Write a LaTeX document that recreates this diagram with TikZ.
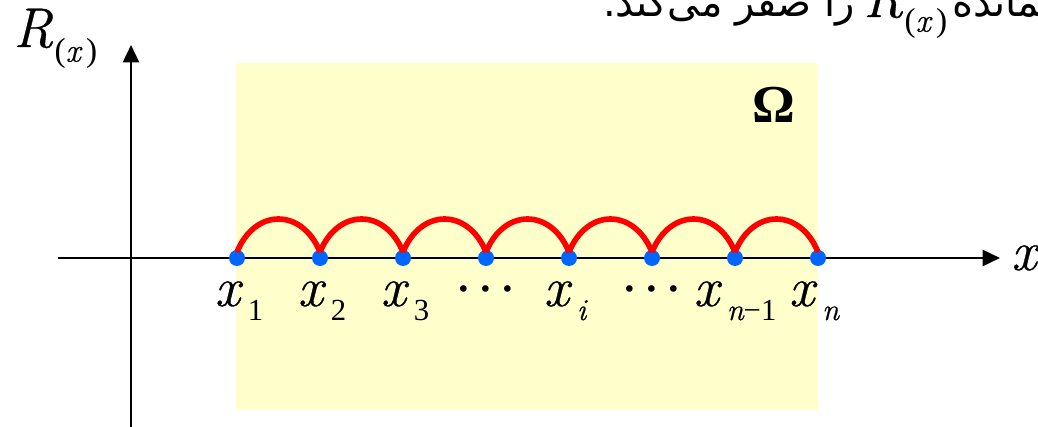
\documentclass[tikz,border=0pt]{standalone}
\usepackage{fontspec}
\setmainfont{Liberation Serif}
\newfontfamily\lmit[FakeBold=0.6]{Latin Modern Roman}
\newfontfamily\persianfont[Script=Arabic]{DejaVu Sans}
\TeXXeTstate=1
\usetikzlibrary{arrows.meta,positioning,calc}

\definecolor{omegabg}{RGB}{255,255,204}
\definecolor{nodeblue}{RGB}{0,102,255}
\newcommand{\bigfont}{\fontsize{42}{46}\selectfont}
\newcommand{\subfont}{\fontsize{23}{25}\selectfont}
\newcommand{\ivar}[1]{{\lmit\itshape #1}}
\newcommand{\xsub}[1]{\ivar{x}\hspace{6pt}\raisebox{-10.5pt}{\subfont #1}}
\newcommand{\Rsub}{\ivar{R}\hspace{1pt}\raisebox{-11pt}{\fontsize{25}{27}\selectfont(\ivar{x}\,)}}
\newcommand{\cdotsrow}{·\hspace{2.6pt}·\hspace{2.6pt}·}

\begin{document}
\begin{tikzpicture}[x=0.75pt,y=-0.75pt,
	axis/.style={line width=1.9pt,-{Triangle[length=13pt,width=12pt]}},
	dotpt/.style={circle,fill=nodeblue,inner sep=0pt,minimum size=12pt},
	hump/.style={red,line width=4.2pt,line join=round},
	lbl/.style={font=\bigfont,inner sep=0pt,anchor=base},
	fa/.style={font=\fontsize{30}{34}\selectfont\persianfont,inner sep=0pt}]
	\useasboundingbox (0,0) rectangle (1038,427);
	% domain
	\fill[omegabg] (236,63) rectangle (818,410);
	\node[lbl,font=\fontsize{40}{44}\selectfont\bfseries] (omega) at (774,123) {Ω};
	% axes
	\coordinate (xs) at (58,258);
	\coordinate (xe) at (1000,258);
	\coordinate (ys) at (131,427);
	\coordinate (ye) at (131,45);
	\draw[axis] (xs) -- (xe);
	\draw[axis] (ys) -- (ye);
	\node[lbl,anchor=base west] (xlab) at (1011,270) {\ivar{x}};
	\node[lbl,anchor=base west] (rlab) at (13,47) {\Rsub};
	% nodes on the line
	\foreach \i/\px in {1/237,2/320,3/403,4/486,5/569,6/652,7/735,8/818}
		\node[dotpt] (p\i) at (\px,258) {};
	\foreach \i/\j in {1/2,2/3,3/4,4/5,5/6,6/7,7/8}
		\draw[hump] ($(p\i)+(0,-6)$) .. controls ($(p\i)+(18,-50)$) and ($(p\j)+(-18,-50)$) .. ($(p\j)+(0,-6)$);
	\node[lbl] (l1) at ($(p1)+(2,48)$) {\xsub{1}};
	\node[lbl] (l2) at ($(p2)+(2,48)$) {\xsub{2}};
	\node[lbl] (l3) at ($(p3)+(2,48)$) {\xsub{3}};
	\node[lbl] (l4) at ($(p4)+(0,50)$) {\cdotsrow};
	\node[lbl] (l5) at ($(p5)+(-4,48)$) {\xsub{\ivar{i}}};
	\node[lbl] (l6) at ($(p6)+(0,50)$) {\cdotsrow};
	\node[lbl] (l7) at ($(p7)+(0,48)$) {\xsub{\ivar{n}−1}};
	\node[lbl] (l8) at ($(p8)+(-4,48)$) {\xsub{\ivar{n}}};
	% caption cut off at the top
	\node[fa,anchor=base east] (fa1) at (855,17) {\beginR را صفر می‌کند.\endR};
	\node[lbl,anchor=base west] (rtop) at (863,17) {\Rsub};
	\node[fa,anchor=base west] (fa2) at (952,17) {\beginR باقیمانده\endR};
\end{tikzpicture}
\end{document}
